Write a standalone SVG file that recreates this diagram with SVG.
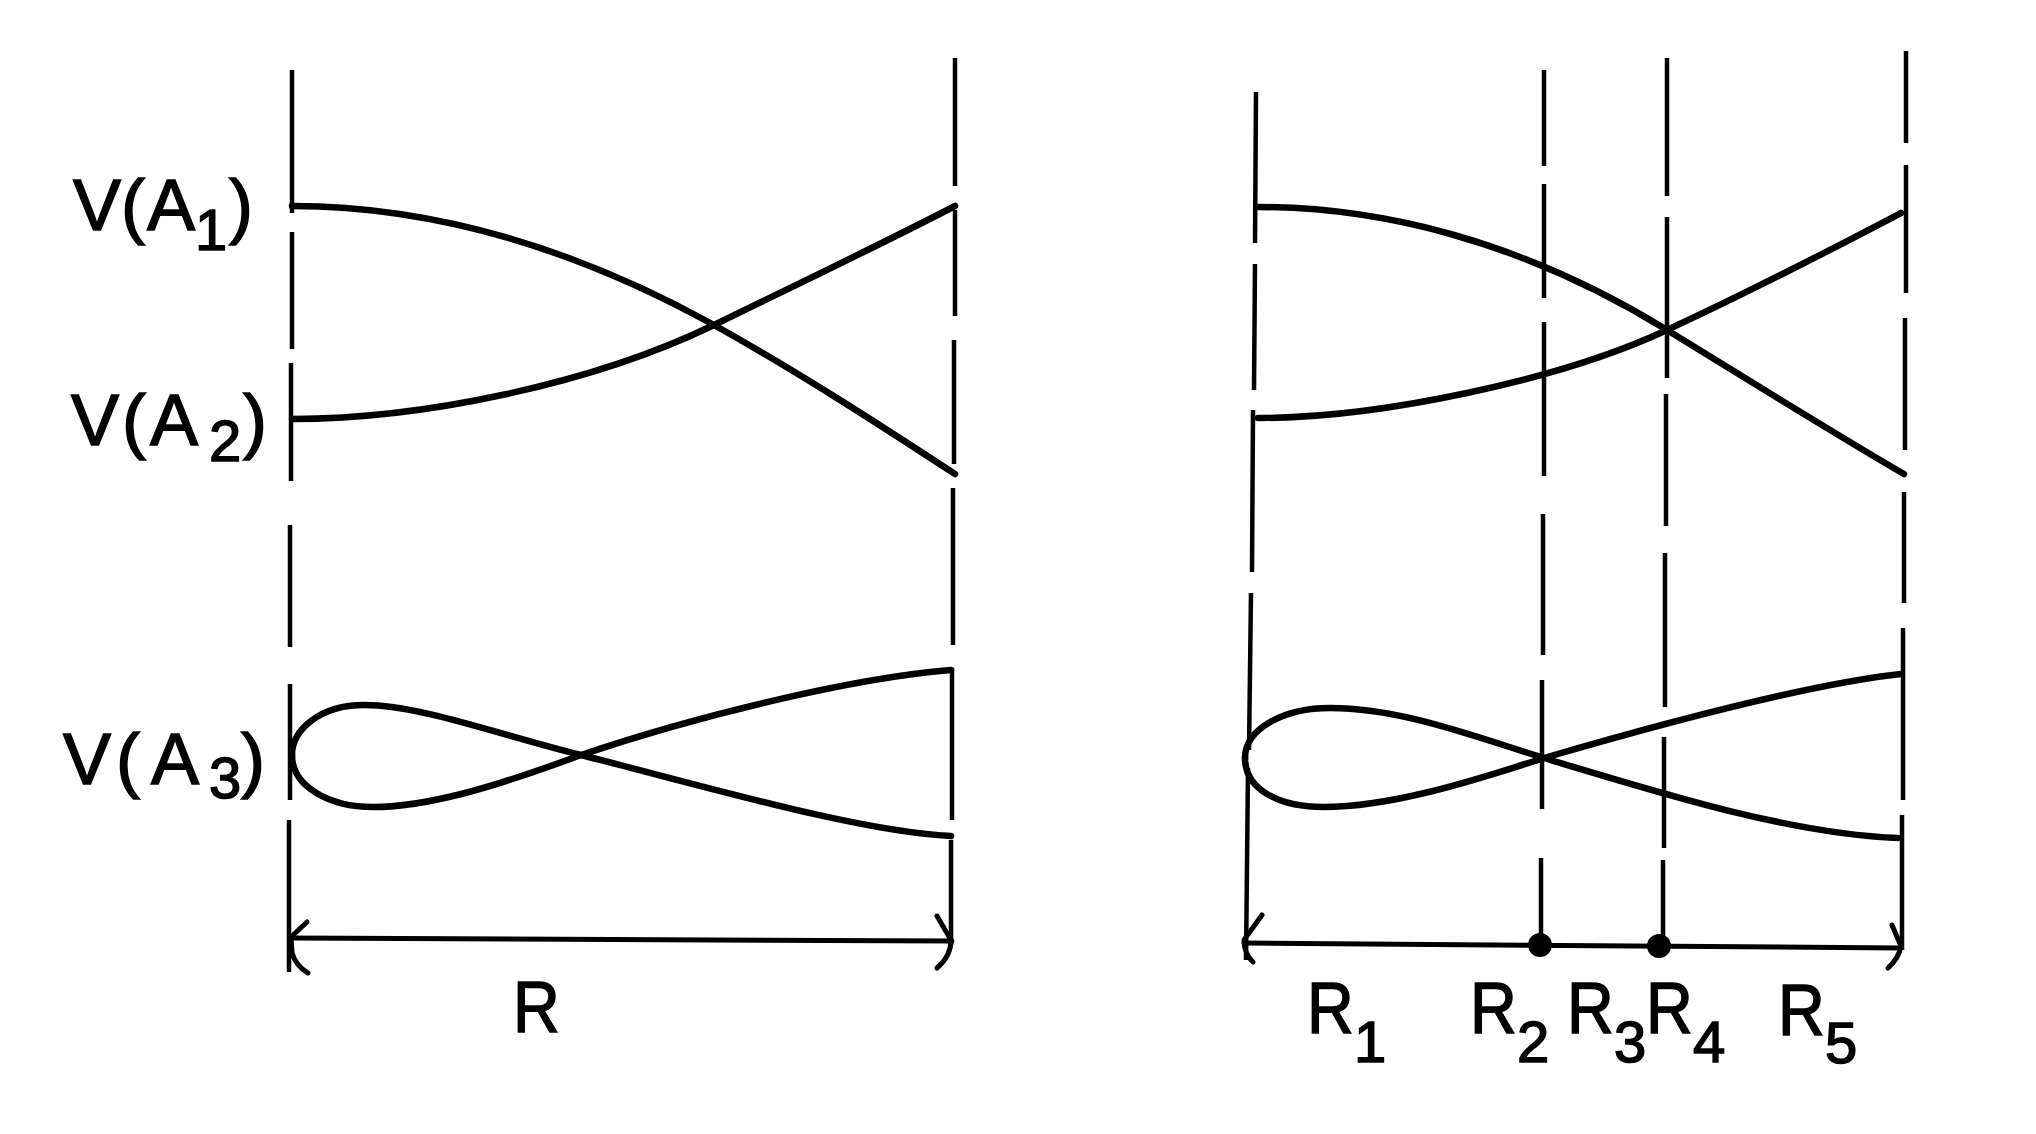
<svg xmlns="http://www.w3.org/2000/svg" width="2036" height="1134" viewBox="0 0 2036 1134">
<style>
.bg{fill:#ffffff}
.vl{fill:none;stroke:#000;stroke-width:4.5;stroke-linecap:butt}
.cv{fill:none;stroke:#000;stroke-width:6.5;stroke-linecap:round;stroke-linejoin:round}
.ax{fill:none;stroke:#000;stroke-width:5;stroke-linecap:round;stroke-linejoin:round}
.dot{fill:#000}
.lb{font-family:"Liberation Sans",Arial,sans-serif;font-size:72px;fill:#000;stroke:#000;stroke-width:1.5}
.sb{font-size:58px}
</style>
<rect class="bg" x="0" y="0" width="2036" height="1134"/>

<g id="left-panel">
  <g id="left-boundaries">
    <path class="vl" d="M292,70 L292,213 M292,232 L292,349 M291,363 L291,481 M290,525 L290,647 M290,684 L290,800 M289,820 L289,972"/>
    <path class="vl" d="M955,58 L955,186 M955,210 L955,316 M954,340 L954,464 M953,488 L953,645 M952,668 L952,820 M951,840 L951,945"/>
  </g>
  <g id="left-curves">
    <path class="cv" d="M292,206 C420,206 560,240 714,325 C800,373 880,425 955,474"/>
    <path class="cv" d="M292,419 C420,419 590,385 714,325 C800,283 890,240 955,206"/>
    <path class="cv" d="M292,755 C292,730 320,705 364,705 C420,705 500,735 581,755 C700,785 860,832 951,836"/>
    <path class="cv" d="M292,755 C292,787 330,807 373,807 C430,807 500,785 581,755 C690,718 850,678 951,670"/>
  </g>
  <g id="left-axis">
    <path class="ax" d="M291,938 L952,941"/>
    <path class="ax" d="M307,922 L291,937 L292,953 Q296,966 308,973"/>
    <path class="ax" d="M937,916 L951,940 Q951,956 937,968"/>
  </g>
  <g id="left-labels">
    <text class="lb"><tspan x="73" y="230">V</tspan><tspan x="121" y="230">(</tspan><tspan x="147" y="230">A</tspan><tspan class="sb" x="195" y="250">1</tspan><tspan x="229" y="230">)</tspan></text>
    <text class="lb"><tspan x="71" y="445">V</tspan><tspan x="122" y="445">(</tspan><tspan x="150" y="445">A</tspan><tspan class="sb" x="209" y="461">2</tspan><tspan x="243" y="445">)</tspan></text>
    <text class="lb"><tspan x="63" y="784">V</tspan><tspan x="116" y="784">(</tspan><tspan x="151" y="784">A</tspan><tspan class="sb" x="209" y="798">3</tspan><tspan x="241" y="784">)</tspan></text>
    <text class="lb" transform="translate(513,1032) scale(0.9,1)" x="0" y="0">R</text>
  </g>
</g>

<g id="right-panel">
  <g id="right-boundaries">
    <path class="vl" d="M1256,92 L1255,243 M1255,264 L1254,390 M1253,410 L1252,572 M1251,593 L1249,750 M1248,768 L1246,960"/>
    <path class="vl" d="M1544,70 L1544,166 M1544,184 L1544,298 M1544,322 L1544,476 M1543,514 L1543,655 M1542,680 L1542,809 M1541,858 L1541,941"/>
    <path class="vl" d="M1667,58 L1667,196 M1667,217 L1667,378 M1666,394 L1666,526 M1665,553 L1665,707 M1664,737 L1664,848 M1663,860 L1663,941"/>
    <path class="vl" d="M1906,51 L1906,143 M1906,165 L1906,293 M1905,318 L1905,450 M1904,492 L1904,603 M1903,628 L1903,800 M1902,815 L1902,950"/>
  </g>
  <g id="right-curves">
    <path class="cv" d="M1258,207 C1380,207 1520,240 1667,330 C1750,381 1840,437 1904,474"/>
    <path class="cv" d="M1258,418 C1380,418 1560,380 1667,330 C1760,287 1840,245 1901,213"/>
    <path class="cv" d="M1245,758 C1245,728 1285,708 1330,708 C1400,708 1470,735 1544,758 C1660,793 1790,834 1898,838"/>
    <path class="cv" d="M1245,758 C1245,790 1280,807 1323,807 C1390,807 1470,782 1544,758 C1640,730 1800,685 1901,674"/>
  </g>
  <g id="right-axis">
    <path class="ax" d="M1244,943 L1901,948"/>
    <path class="ax" d="M1262,915 L1244,940 Q1244,954 1253,962"/>
    <path class="ax" d="M1892,925 L1901,946 Q1899,958 1888,968"/>
    <circle id="dot-r2" class="dot" cx="1540" cy="945" r="12"/>
    <circle id="dot-r4" class="dot" cx="1659" cy="946" r="12"/>
  </g>
  <g id="right-labels">
    <text class="lb" transform="translate(1307,1033) scale(0.9,1)" x="0" y="0">R</text>
    <text class="lb sb" x="1354" y="1062">1</text>
    <text class="lb" transform="translate(1470,1033) scale(0.9,1)" x="0" y="0">R</text>
    <text class="lb sb" x="1517" y="1062">2</text>
    <text class="lb" transform="translate(1567,1033) scale(0.9,1)" x="0" y="0">R</text>
    <text class="lb sb" x="1614" y="1062">3</text>
    <text class="lb" transform="translate(1646,1033) scale(0.9,1)" x="0" y="0">R</text>
    <text class="lb sb" x="1693" y="1062">4</text>
    <text class="lb" transform="translate(1778,1035) scale(0.9,1)" x="0" y="0">R</text>
    <text class="lb sb" x="1825" y="1063">5</text>
  </g>
</g>
</svg>
